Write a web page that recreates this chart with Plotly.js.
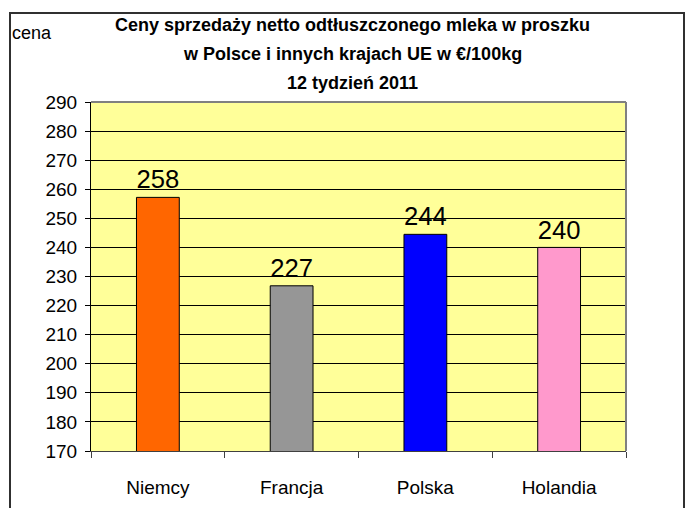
<!DOCTYPE html>
<html>
<head>
<meta charset="utf-8">
<script src="https://cdn.plot.ly/plotly-3.0.1.min.js"></script>
<style>
  html, body { margin: 0; padding: 0; background: #ffffff; }
  #chart { position: absolute; left: 0; top: 0; width: 685px; height: 508px; }
  #frame { position: absolute; left: 9px; top: 12px; width: 676px; height: 600px;
           box-sizing: border-box; border: 2px solid #303030; pointer-events: none; }
</style>
</head>
<body>
<div id="chart"></div>
<div id="frame"></div>
<script>
// ---- data ----
const categories = ["Niemcy", "Francja", "Polska", "Holandia"];
const prices = [257.2, 226.8, 244.5, 240.0];
const priceLabels = ["258", "227", "244", "240"];
const barColors = ["#FF6600", "#969696", "#0000FF", "#FF99CC"];
const yTicks = [170, 180, 190, 200, 210, 220, 230, 240, 250, 260, 270, 280, 290];
const titleLines = [
  "Ceny sprzedaży netto odtłuszczonego mleka w proszku",
  "w Polsce i innych krajach UE w €/100kg",
  "12 tydzień 2011"
];
const yLabel = "cena";

const FONT = "Liberation Sans, Arial, sans-serif";

const trace = {
  type: "bar",
  x: categories,
  y: prices,
  base: 0,
  text: priceLabels,
  textposition: "outside",
  textfont: { family: FONT, size: 26, color: "#000000" },
  cliponaxis: false,
  marker: { color: barColors, line: { color: "#000000", width: 1 } },
  hoverinfo: "none"
};

const titleShifts = [77, 48, 19];
const annotations = titleLines.map((t, i) => ({
  text: "<b>" + t + "</b>",
  xref: "paper", yref: "paper",
  x: 0.5, y: 1, xanchor: "center", yanchor: "middle",
  xshift: -6, yshift: titleShifts[i],
  showarrow: false,
  font: { family: FONT, size: 18, color: "#000000" }
}));
annotations.push({
  text: yLabel,
  xref: "paper", yref: "paper",
  x: 0, y: 1, xanchor: "left", yanchor: "middle",
  xshift: -81, yshift: 69,
  showarrow: false,
  font: { family: FONT, size: 18, color: "#000000" }
});

const layout = {
  width: 685, height: 508,
  margin: { l: 91, r: 59, t: 102, b: 57, pad: 0 },
  paper_bgcolor: "#ffffff",
  plot_bgcolor: "#FFFF99",
  showlegend: false,
  bargap: 0.68,
  font: { family: FONT, color: "#000000" },
  xaxis: {
    type: "category",
    showgrid: false,
    showline: true, linecolor: "#404040", linewidth: 1,
    ticks: "outside", tickson: "boundaries", ticklen: 6, tickcolor: "#404040", tickwidth: 1,
    tickfont: { family: FONT, size: 19, color: "#000000" },
    ticklabelstandoff: 19,
    zeroline: false,
    fixedrange: true
  },
  yaxis: {
    range: [170, 290],
    tickvals: yTicks,
    ticktext: yTicks.map(String),
    showgrid: true, gridcolor: "#000000", gridwidth: 1,
    showline: true, linecolor: "#000000", linewidth: 1,
    ticks: "outside", ticklen: 5, tickcolor: "#000000", tickwidth: 1,
    tickfont: { family: FONT, size: 19, color: "#000000" },
    ticklabelstandoff: 4,
    zeroline: false,
    fixedrange: true
  },
  shapes: [
    { type: "line", xref: "paper", yref: "paper", x0: 0, x1: 1, y0: 1, y1: 1,
      line: { color: "#808080", width: 2 }, layer: "above" },
    { type: "line", xref: "paper", yref: "paper", x0: 1, x1: 1, y0: 0, y1: 1,
      line: { color: "#808080", width: 2 }, layer: "above" }
  ],
  annotations: annotations
};

Plotly.newPlot("chart", [trace], layout, { displayModeBar: false, staticPlot: true });
</script>
</body>
</html>
